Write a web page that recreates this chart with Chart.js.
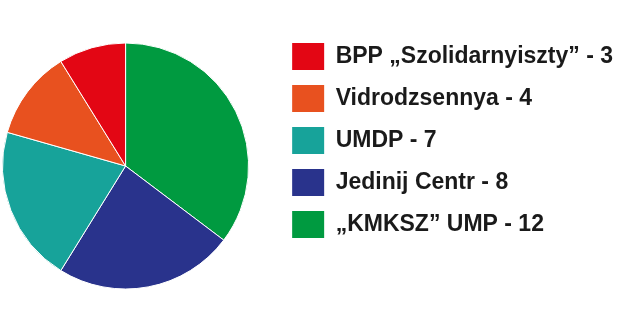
<!DOCTYPE html>
<html><head><meta charset="utf-8">
<script src="https://cdn.jsdelivr.net/npm/chart.js@4/dist/chart.umd.min.js"></script>
<style>
html,body{margin:0;padding:0;background:#fff;overflow:hidden;width:620px;height:330px;}
#wrap{position:absolute;left:-26px;top:0;width:650px;height:330px;}
</style></head>
<body>
<div id="wrap"><canvas id="c" width="650" height="330"></canvas></div>
<script>
const parties = ['„KMKSZ” UMP', 'Jedinij Centr', 'UMDP', 'Vidrodzsennya', 'BPP „Szolidarnyiszty”'];
const seats = [12, 8, 7, 4, 3];
const colors = ['#009A40', '#29338C', '#17A39A', '#E8511F', '#E30614'];

const labels = parties.map((p, i) => p + ' - ' + seats[i]);

new Chart(document.getElementById('c'), {
  type: 'pie',
  data: {
    labels: labels,
    datasets: [{
      data: seats,
      backgroundColor: colors,
      borderColor: '#ffffff',
      borderWidth: 1,
      radius: 123
    }]
  },
  options: {
    responsive: false,
    animation: false,
    layout: { padding: { top: 28, bottom: 26, left: 0, right: 1 } },
    plugins: {
      tooltip: { enabled: false },
      legend: {
        position: 'right',
        align: 'start',
        reverse: true,
        maxWidth: 1000,
        labels: {
          boxWidth: 32,
          boxHeight: 27,
          padding: 15,
          color: '#1a1a1a',
          font: { family: '"Liberation Sans", Arial, sans-serif', size: 23, weight: 'bold' },
          generateLabels: (chart) => {
            const items = Chart.overrides.pie.plugins.legend.labels.generateLabels(chart);
            return items.map(it => Object.assign(it, { strokeStyle: it.fillStyle, lineWidth: 0 }));
          }
        }
      }
    }
  }
});
</script>
</body></html>
